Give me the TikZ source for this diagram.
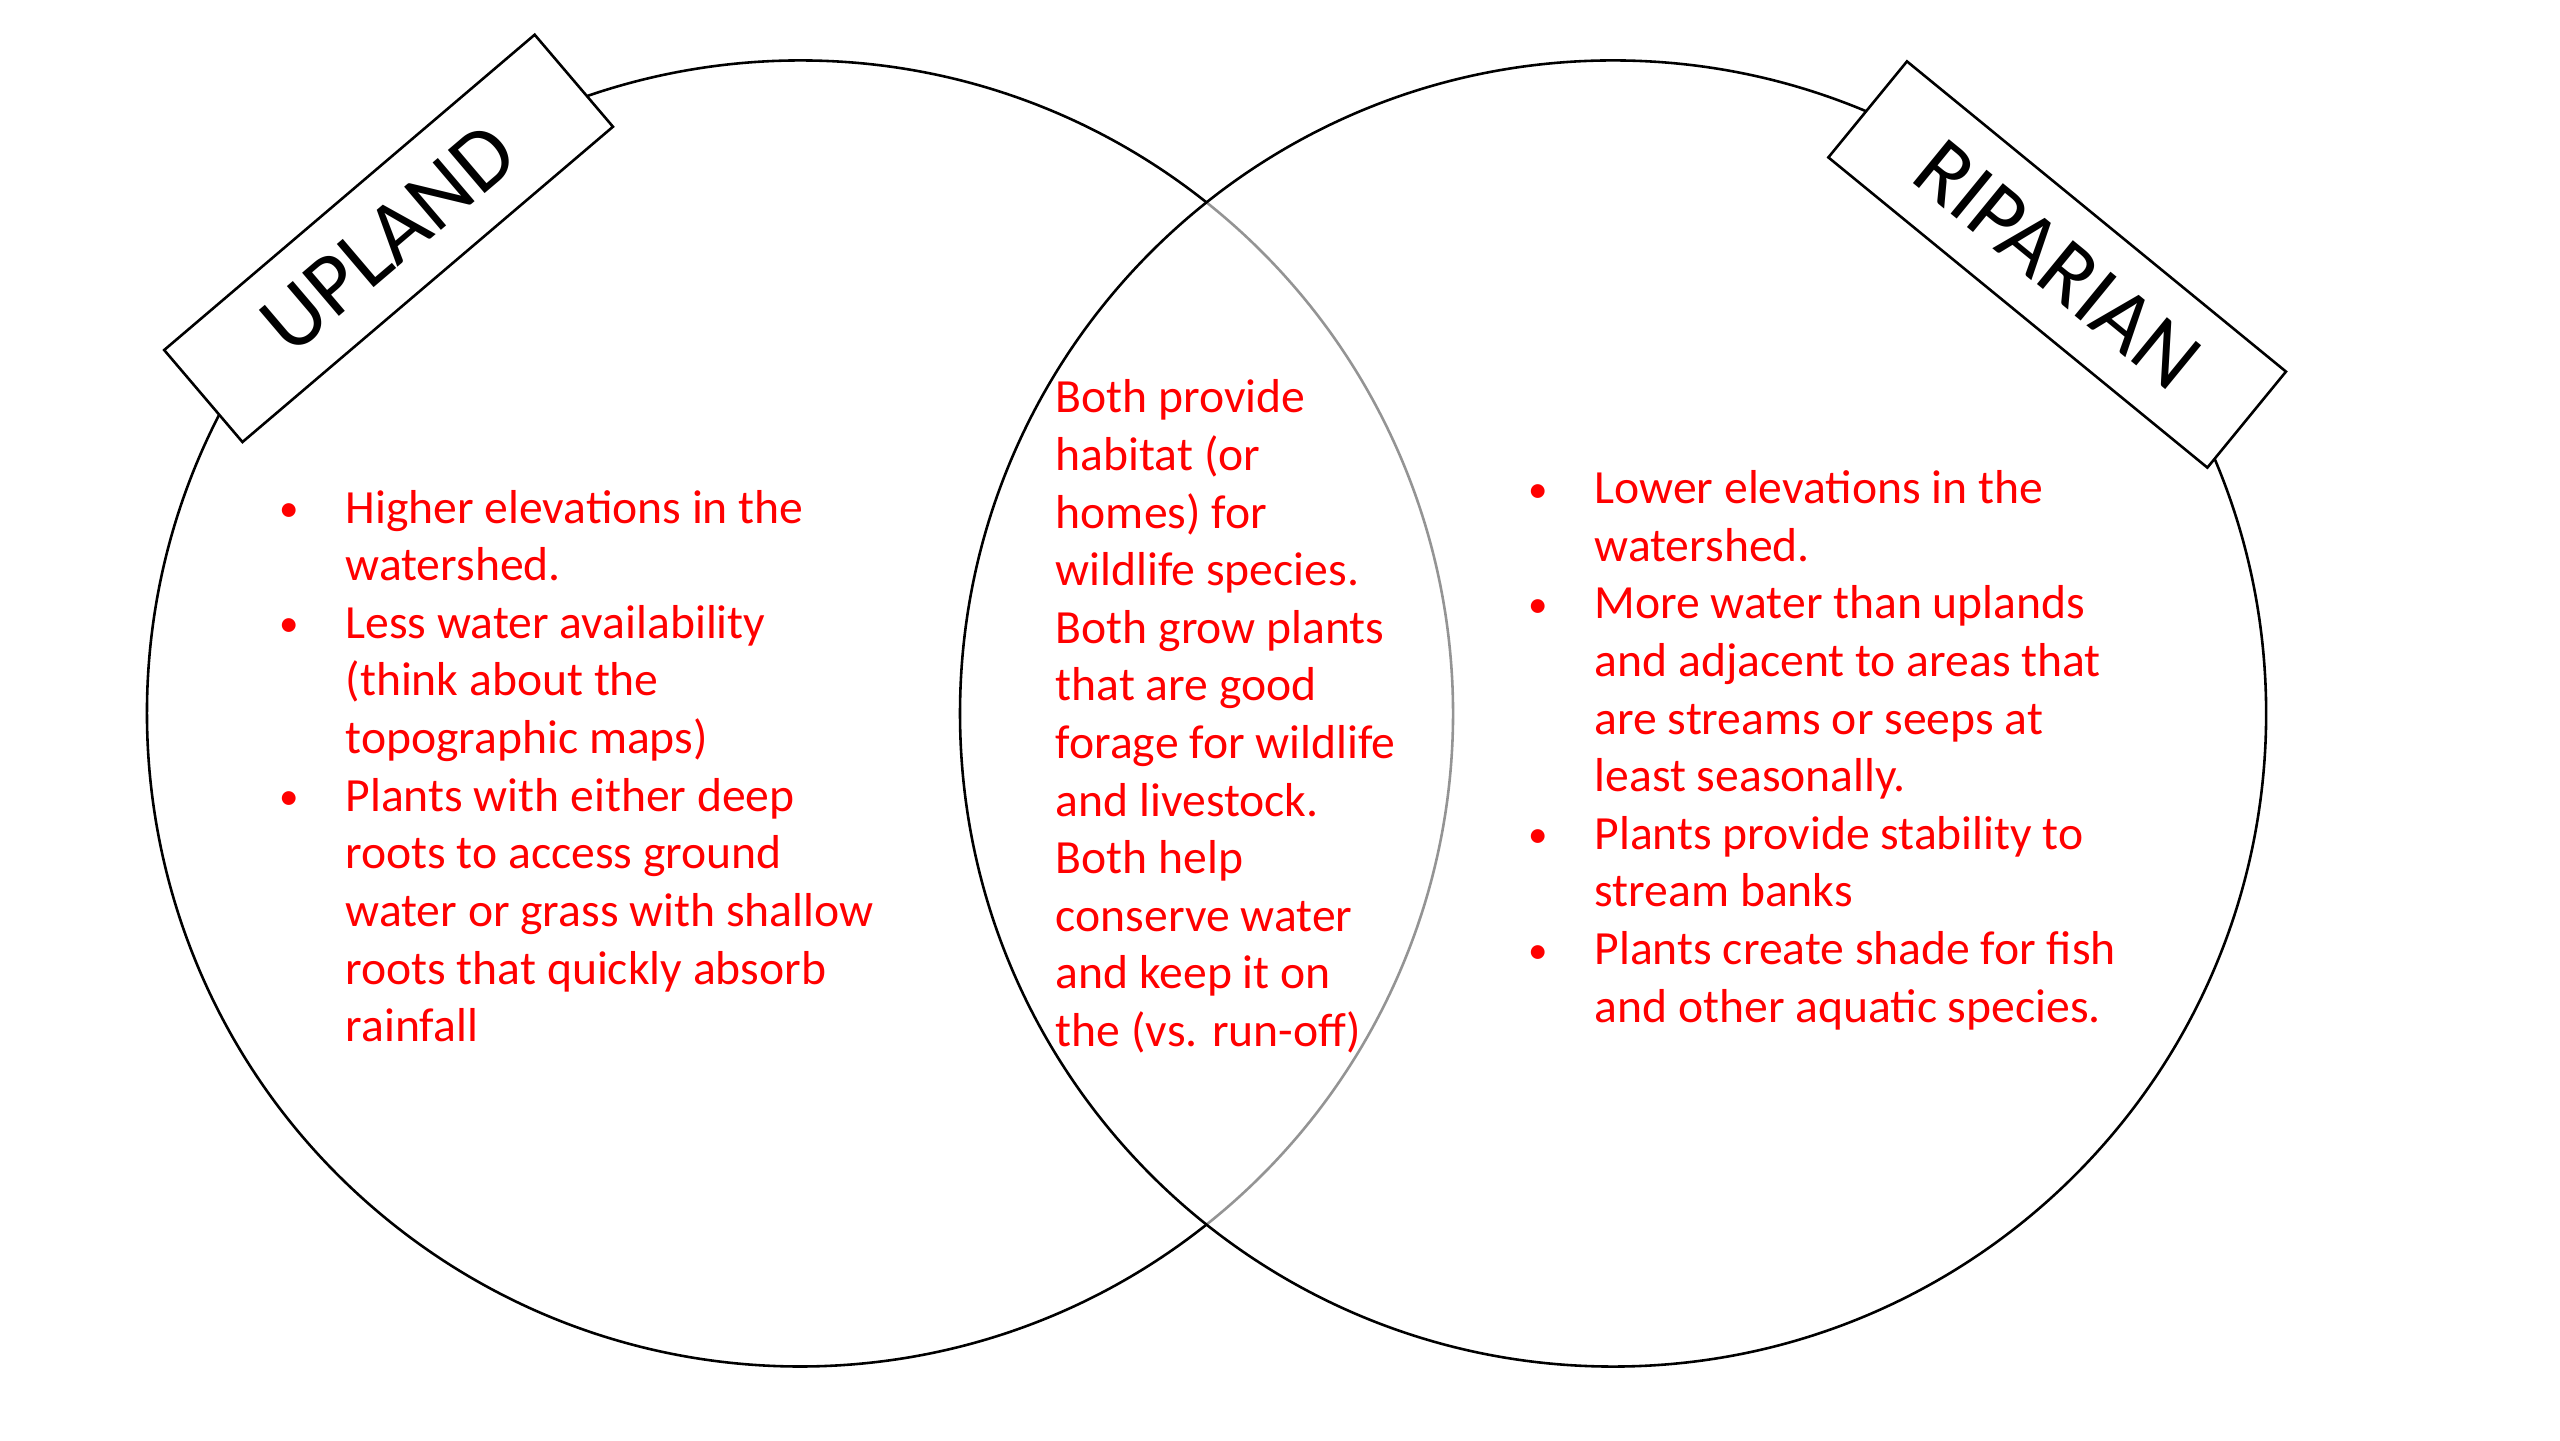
\documentclass[tikz,border=0pt]{standalone}
\usepackage{fontspec}
\setmainfont{Carlito}
\usetikzlibrary{positioning}
\newcommand{\itm}{\llap{\raisebox{0.25pt}{\fontsize{6.8}{6.8}\selectfont\textbullet}\hspace{8.2pt}}}
\tikzset{
  ring/.style={
    line width=0.45pt,
    draw=black
  },
  innerarc/.style={
    line width=0.45pt,
    draw=black!42
  },
  tagbox/.style={
    draw,
    fill=white,
    line width=0.45pt,
    inner sep=0pt,
    font=\fontsize{15.4}{18}\selectfont
  },
  notes/.style={
    text=red,
    align=left,
    inner sep=0pt,
    anchor=base west,
    font=\fontsize{8.3}{10.04}\selectfont
  }
}

\begin{document}
\begin{tikzpicture}
  \useasboundingbox (0,0) rectangle (15.68,8.82);
  \coordinate (lc) at (4.90,4.45);
  \coordinate (rc) at (9.88,4.45);
  % the two circles
  \draw[ring] (lc) ++(51.5:4) arc[start angle=51.5, end angle=308.5, radius=4];
  \draw[innerarc] (lc) ++(-51.5:4) arc[start angle=-51.5, end angle=51.5, radius=4];
  \draw[ring] (rc) circle[radius=4];
  % titles
  \node[tagbox,rotate=40.4,minimum width=2.98cm,minimum height=0.74cm] (uplandtag) at (2.38,7.36) {UPLAND};
  \node[tagbox,rotate=-39.3,minimum width=3.00cm,minimum height=0.76cm] (ripariantag) at (12.60,7.20) {RIPARIAN};
  % notes (anchored at the last line)
  \node[notes] (uplandnotes) at (2.11,2.44) {%
    \itm Higher elevations in the\\
    watershed.\\
    \itm Less water availability\\
    (think about the\\
    topographic maps)\\
    \itm Plants with either deep\\
    roots to access ground\\
    water or grass with shallow\\
    roots that quickly absorb\\
    rainfall};
  \node[notes] (bothnotes) at (6.46,2.41) {%
    Both provide\\
    habitat (or\\
    homes) for\\
    wildlife species.\\
    Both grow plants\\
    that are good\\
    forage for wildlife\\
    and livestock.\\
    Both help\\
    conserve water\\
    and keep it on\\
    the (vs. run-off)};
  \node[notes] (ripariannotes) at (9.76,2.56) {%
    \itm Lower elevations in the\\
    watershed.\\
    \itm More water than uplands\\
    and adjacent to areas that\\
    are streams or seeps at\\
    least seasonally.\\
    \itm Plants provide stability to\\
    stream banks\\
    \itm Plants create shade for fish\\
    and other aquatic species.};
\end{tikzpicture}
\end{document}
